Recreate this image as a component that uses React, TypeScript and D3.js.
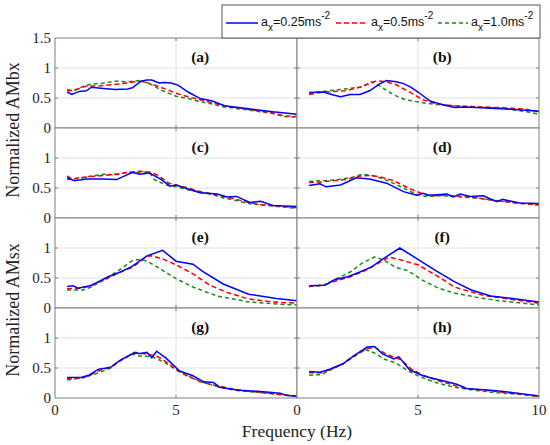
import React from "react";
import * as d3 from "d3";

type Pt = [number, number];

const panelLabels = ["(a)", "(b)", "(c)", "(d)", "(e)", "(f)", "(g)", "(h)"];
const seriesNames = ["0.25", "0.5", "1.0"];
const seriesColors = ["#0000ff", "#ff0000", "#1a8a1a"];
const xTicks = [0, 5, 10];
const yTicks = [0, 0.5, 1, 1.5];
const yTitles = ["Normalized AMbx", "Normalized AMsx"];
const xTitle = "Frequency (Hz)";

// (a)
const aBlue: Pt[] = [[0.5,0.6],[0.7,0.56],[1.0,0.61],[1.3,0.62],[1.5,0.68],[2.0,0.66],[2.5,0.64],[3.0,0.65],[3.2,0.67],[3.55,0.78],[3.8,0.8],[4.0,0.8],[4.3,0.75],[4.5,0.76],[4.8,0.75],[5.1,0.71],[5.5,0.6],[6.0,0.49],[6.5,0.45],[7.0,0.37],[8.0,0.32],[9.0,0.27],[9.5,0.25],[10,0.23]];
const aRed: Pt[] = [[0.5,0.62],[0.8,0.63],[1.3,0.7],[1.8,0.7],[2.3,0.72],[2.8,0.74],[3.3,0.77],[3.6,0.78],[4.0,0.73],[4.5,0.66],[5.0,0.58],[5.5,0.52],[6.0,0.47],[6.5,0.42],[7.0,0.37],[8.0,0.31],[9.0,0.25],[9.5,0.2],[10,0.19]];
const aGreen: Pt[] = [[0.5,0.64],[0.75,0.62],[1.2,0.7],[1.5,0.73],[2.0,0.75],[2.5,0.78],[3.0,0.77],[3.5,0.79],[3.9,0.74],[4.4,0.63],[5.0,0.53],[5.5,0.49],[6.0,0.44],[6.5,0.4],[7.0,0.35],[8.0,0.3],[9.0,0.24],[9.5,0.19],[10,0.18]];
// (b)
const bBlue: Pt[] = [[0.5,0.59],[1.1,0.6],[1.5,0.55],[1.8,0.52],[2.2,0.56],[2.6,0.56],[3.0,0.62],[3.4,0.73],[3.7,0.79],[4.1,0.77],[4.4,0.74],[4.7,0.68],[5.0,0.6],[5.5,0.45],[6.0,0.39],[6.5,0.34],[7.0,0.35],[8.0,0.33],[9.0,0.31],[10,0.28]];
const bRed: Pt[] = [[0.5,0.56],[1.1,0.6],[2.0,0.62],[2.7,0.69],[3.3,0.79],[3.7,0.77],[4.1,0.72],[4.6,0.61],[5.2,0.47],[5.8,0.4],[6.5,0.37],[7.5,0.35],[8.5,0.34],[9.5,0.31],[10,0.27]];
const bGreen: Pt[] = [[0.5,0.58],[1.5,0.63],[2.2,0.66],[2.6,0.68],[3.1,0.77],[3.5,0.68],[4.0,0.55],[4.5,0.47],[5.2,0.42],[6.0,0.38],[7.0,0.36],[8.5,0.33],[9.5,0.27],[10,0.23]];
// (c)
const cBlue: Pt[] = [[0.5,0.67],[0.8,0.62],[1.3,0.65],[2.0,0.65],[2.55,0.64],[3.2,0.76],[3.5,0.73],[3.9,0.75],[4.4,0.64],[4.75,0.53],[5.0,0.55],[5.6,0.47],[6.0,0.42],[6.7,0.4],[7.1,0.35],[7.5,0.36],[8.05,0.26],[8.5,0.28],[9.0,0.21],[10,0.19]];
const cRed: Pt[] = [[0.5,0.7],[0.7,0.65],[1.0,0.67],[1.5,0.69],[2.0,0.71],[2.5,0.73],[3.0,0.76],[3.5,0.78],[4.0,0.76],[4.3,0.7],[4.7,0.58],[5.0,0.55],[5.5,0.5],[6.0,0.44],[6.5,0.4],[7.0,0.36],[7.5,0.31],[8.0,0.26],[8.5,0.22],[9.0,0.21],[10,0.17]];
const cGreen: Pt[] = [[0.5,0.64],[1.0,0.66],[1.5,0.7],[2.0,0.73],[2.5,0.72],[3.0,0.76],[3.5,0.76],[3.9,0.77],[4.1,0.64],[4.6,0.55],[5.0,0.52],[5.5,0.47],[6.0,0.43],[6.5,0.39],[7.0,0.33],[7.5,0.29],[8.0,0.24],[8.5,0.22],[9.0,0.2],[10,0.16]];
// (d)
const dBlue: Pt[] = [[0.5,0.54],[0.95,0.57],[1.2,0.52],[1.8,0.55],[2.45,0.67],[3.0,0.65],[3.7,0.58],[4.4,0.44],[4.95,0.38],[5.2,0.41],[5.45,0.38],[6.2,0.4],[6.45,0.35],[6.75,0.4],[7.15,0.36],[7.7,0.37],[8.25,0.27],[8.5,0.31],[9.2,0.25],[10,0.24]];
const dRed: Pt[] = [[0.5,0.59],[1.0,0.6],[1.5,0.62],[2.0,0.64],[2.6,0.7],[3.0,0.71],[3.5,0.68],[4.0,0.62],[4.6,0.5],[5.2,0.4],[5.5,0.37],[6.0,0.38],[6.5,0.37],[7.0,0.35],[7.5,0.33],[8.0,0.3],[8.5,0.28],[9.0,0.25],[10,0.22]];
const dGreen: Pt[] = [[0.5,0.61],[1.0,0.62],[1.7,0.64],[2.3,0.68],[2.7,0.73],[3.2,0.7],[3.7,0.63],[4.3,0.52],[4.9,0.4],[5.3,0.36],[6.0,0.37],[6.5,0.36],[7.5,0.33],[8.2,0.29],[9.0,0.26],[10,0.21]];
// (e)
const eBlue: Pt[] = [[0.5,0.36],[0.75,0.37],[0.95,0.33],[1.45,0.37],[2.2,0.52],[2.7,0.6],[3.17,0.69],[3.8,0.87],[4.45,0.96],[5.0,0.78],[5.7,0.73],[6.1,0.61],[6.95,0.4],[8.0,0.23],[9.15,0.16],[10,0.12]];
const eRed: Pt[] = [[0.5,0.32],[1.0,0.33],[1.5,0.37],[2.2,0.5],[2.7,0.6],[3.2,0.68],[3.8,0.86],[4.0,0.87],[4.5,0.81],[5.0,0.72],[5.7,0.57],[6.4,0.38],[7.1,0.26],[8.0,0.15],[9.0,0.1],[10,0.08]];
const eGreen: Pt[] = [[0.5,0.3],[1.15,0.3],[1.5,0.35],[2.1,0.49],[2.75,0.66],[3.2,0.79],[3.5,0.81],[3.8,0.78],[4.2,0.69],[5.0,0.49],[5.7,0.35],[6.7,0.2],[8.0,0.1],[9.0,0.07],[10,0.05]];
// (f)
const fBlue: Pt[] = [[0.5,0.37],[1.15,0.38],[1.55,0.47],[2.1,0.52],[2.6,0.6],[3.1,0.69],[3.6,0.83],[4.25,1.0],[5.0,0.81],[5.7,0.63],[6.5,0.44],[7.2,0.3],[8.0,0.2],[8.9,0.16],[10,0.1]];
const fRed: Pt[] = [[0.5,0.36],[1.1,0.38],[1.6,0.45],[2.2,0.52],[2.9,0.64],[3.8,0.85],[4.3,0.8],[5.0,0.72],[5.85,0.52],[6.5,0.35],[7.6,0.22],[8.9,0.14],[10,0.08]];
const fGreen: Pt[] = [[0.5,0.36],[1.1,0.38],[1.7,0.5],[2.2,0.6],[2.7,0.75],[3.2,0.85],[3.6,0.8],[4.05,0.68],[4.6,0.62],[5.15,0.47],[5.85,0.33],[6.5,0.25],[7.4,0.18],[8.2,0.13],[10,0.05]];
// (g)
const gBlue: Pt[] = [[0.5,0.34],[1.1,0.345],[1.4,0.38],[1.8,0.48],[2.3,0.51],[2.7,0.63],[3.25,0.75],[3.55,0.74],[3.8,0.76],[4.0,0.67],[4.2,0.78],[4.6,0.66],[5.15,0.45],[5.7,0.37],[6.15,0.27],[6.55,0.26],[6.8,0.18],[7.6,0.13],[8.5,0.11],[9.3,0.08],[9.6,0.04],[10,0.03]];
const gRed: Pt[] = [[0.5,0.32],[1.2,0.34],[1.8,0.45],[2.3,0.52],[2.8,0.65],[3.3,0.76],[3.8,0.73],[4.2,0.7],[4.6,0.6],[5.2,0.42],[6.0,0.27],[6.5,0.22],[7.4,0.145],[8.5,0.09],[9.5,0.05],[10,0.03]];
const gGreen: Pt[] = [[0.5,0.3],[1.2,0.34],[1.8,0.42],[2.3,0.5],[2.7,0.62],[3.2,0.73],[3.5,0.7],[4.0,0.69],[4.5,0.6],[5.0,0.47],[5.6,0.35],[6.2,0.25],[6.8,0.18],[7.6,0.12],[8.5,0.09],[9.3,0.06],[10,0.03]];
// (h)
const hBlue: Pt[] = [[0.5,0.44],[0.95,0.43],[1.35,0.48],[1.9,0.57],[2.3,0.69],[2.9,0.85],[3.2,0.86],[3.55,0.73],[4.0,0.65],[4.2,0.69],[4.65,0.47],[5.2,0.37],[5.9,0.3],[6.6,0.23],[7.0,0.16],[8.25,0.12],[9.1,0.08],[10,0.035]];
const hRed: Pt[] = [[0.5,0.42],[1.0,0.42],[1.4,0.48],[1.9,0.57],[2.3,0.69],[2.9,0.82],[3.2,0.85],[3.6,0.75],[4.0,0.68],[4.3,0.64],[4.7,0.49],[5.2,0.38],[5.9,0.28],[6.6,0.2],[7.2,0.15],[8.2,0.11],[9.2,0.07],[10,0.03]];
const hGreen: Pt[] = [[0.5,0.38],[1.0,0.39],[1.4,0.47],[1.9,0.57],[2.4,0.7],[2.8,0.81],[3.2,0.75],[3.6,0.65],[4.1,0.58],[4.6,0.45],[5.1,0.35],[5.8,0.25],[6.5,0.18],[7.3,0.13],[8.2,0.09],[9.2,0.06],[10,0.02]];

const panelSeries: Pt[][][] = [
  [aBlue, aRed, aGreen],
  [bBlue, bRed, bGreen],
  [cBlue, cRed, cGreen],
  [dBlue, dRed, dGreen],
  [eBlue, eRed, eGreen],
  [fBlue, fRed, fGreen],
  [gBlue, gRed, gGreen],
  [hBlue, hRed, hGreen],
];

const W = 550;
const H = 445;
const colX = [55, 297];
const pw = 242;
const rowY = [38, 128, 218, 308];
const ph = 90;
const serif = "Liberation Serif";
const sans = "Liberation Sans";
const dashes = [null, "5,3", "4,3"];
const frame = "#808080";

function Panel({ idx }: { idx: number }) {
  const col = idx % 2;
  const row = Math.floor(idx / 2);
  const x0 = colX[col];
  const y0 = rowY[row];
  const x = d3.scaleLinear().domain([0, 10]).range([x0, x0 + pw]);
  const y = d3.scaleLinear().domain([0, 1.5]).range([y0 + ph, y0]);
  const line = d3
    .line<Pt>()
    .x((d) => x(d[0]))
    .y((d) => y(d[1]));
  const gridX = [5];
  const gridY = [0.5, 1];
  return (
    <g>
      <rect x={x0} y={y0} width={pw} height={ph} fill="#fff" />
      {gridX.map((v) => (
        <line key={"gx" + v} x1={x(v)} x2={x(v)} y1={y0} y2={y0 + ph} stroke="#e2e2e2" strokeWidth={1} />
      ))}
      {gridY.map((v) => (
        <line key={"gy" + v} x1={x0} x2={x0 + pw} y1={y(v)} y2={y(v)} stroke="#e2e2e2" strokeWidth={1} />
      ))}
      {[2, 1, 0].map((s) => (
        <path
          key={"s" + s}
          d={line(panelSeries[idx][s]) || ""}
          fill="none"
          stroke={seriesColors[s]}
          strokeWidth={1.5}
          strokeDasharray={dashes[s] || undefined}
        />
      ))}
      {gridX.map((v) => (
        <g key={"tx" + v}>
          <line x1={x(v)} x2={x(v)} y1={y0 + ph} y2={y0 + ph - 3} stroke={frame} />
          <line x1={x(v)} x2={x(v)} y1={y0} y2={y0 + 3} stroke={frame} />
        </g>
      ))}
      {gridY.map((v) => (
        <g key={"ty" + v}>
          <line x1={x0} x2={x0 + 3} y1={y(v)} y2={y(v)} stroke={frame} />
          <line x1={x0 + pw} x2={x0 + pw - 3} y1={y(v)} y2={y(v)} stroke={frame} />
        </g>
      ))}
      <rect x={x0} y={y0} width={pw} height={ph} fill="none" stroke={frame} strokeWidth={1} />
      <text
        x={x(6)}
        y={y0 + 24}
        textAnchor="middle"
        style={{ fontFamily: serif, fontWeight: "bold", fontSize: "15.5px" }}
        fill="#111"
      >
        {panelLabels[idx]}
      </text>
      {col === 0 &&
        yTicks
          .filter((t) => row === 0 || t < 1.5)
          .map((t) => (
            <text
              key={"yl" + t}
              x={x0 - 4}
              y={y(t) + 5}
              textAnchor="end"
              style={{ fontFamily: serif, fontSize: "15px" }}
              fill="#222"
            >
              {String(t)}
            </text>
          ))}
      {row === 3 &&
        xTicks
          .filter((t) => col === 1 || t < 10)
          .map((t) => (
            <text
              key={"xl" + t}
              x={x(t)}
              y={y0 + ph + 17}
              textAnchor="middle"
              style={{ fontFamily: serif, fontSize: "15px" }}
              fill="#222"
            >
              {String(t)}
            </text>
          ))}
    </g>
  );
}

function Legend() {
  const lx = 222;
  const ly = 5;
  const lw = 318;
  const lh = 33;
  const items = [
    { x1: 226, x2: 258, tx: 261 },
    { x1: 336, x2: 368, tx: 371 },
    { x1: 438, x2: 468, tx: 471 },
  ];
  return (
    <g>
      <rect x={lx} y={ly} width={lw} height={lh} fill="#fff" stroke="#555" strokeWidth={1} />
      {items.map((it, i) => (
        <g key={i}>
          <line
            x1={it.x1}
            x2={it.x2}
            y1={23}
            y2={23}
            stroke={seriesColors[i]}
            strokeWidth={1.5}
            strokeDasharray={dashes[i] || undefined}
          />
          <text x={it.tx} y={26} style={{ fontFamily: sans, fontSize: "12.5px" }} fill="#111">
            <tspan>a</tspan>
            <tspan dy={5} style={{ fontSize: "10px" }}>x</tspan>
            <tspan dy={-5}>{"=" + seriesNames[i] + "ms"}</tspan>
            <tspan dy={-7} style={{ fontSize: "10px" }}>-2</tspan>
          </text>
        </g>
      ))}
    </g>
  );
}

export default function App() {
  const idxs = d3.range(8);
  return (
    <svg
      width={W}
      height={H}
      viewBox={`0 0 ${W} ${H}`}
      style={{ position: "absolute", left: 0, top: 0, background: "#fff" }}
    >
      <rect x={0} y={0} width={W} height={H} fill="#fff" />
      {idxs.map((i) => (
        <Panel key={i} idx={i} />
      ))}
      <Legend />
      {yTitles.map((t, i) => (
        <text
          key={t}
          transform={`translate(19, ${130 + i * 180}) rotate(-90)`}
          textAnchor="middle"
          style={{ fontFamily: serif, fontSize: "18px" }}
          fill="#222"
        >
          {t}
        </text>
      ))}
      <text
        x={297}
        y={437}
        textAnchor="middle"
        style={{ fontFamily: serif, fontSize: "17.5px" }}
        fill="#222"
      >
        {xTitle}
      </text>
    </svg>
  );
}
